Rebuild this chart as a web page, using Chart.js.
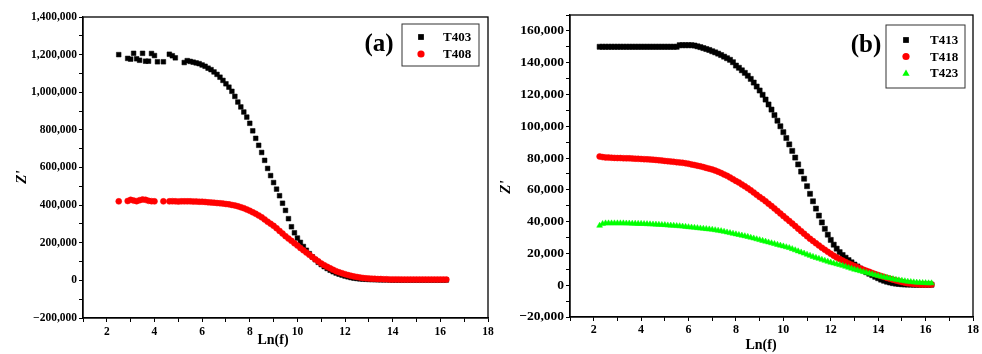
<!DOCTYPE html>
<html>
<head>
<meta charset="utf-8">
<script src="https://cdn.jsdelivr.net/npm/chart.js@4.4.1/dist/chart.umd.min.js"></script>
<style>
  html, body { margin: 0; padding: 0; background: #fff; }
  #wrap { position: relative; width: 982px; height: 354px; overflow: hidden; }
  #chartA { position: absolute; left: 0; top: 0; }
  #chartB { position: absolute; left: 490px; top: 0; }
</style>
</head>
<body>
<div id="wrap">
  <canvas id="chartA" width="500" height="354"></canvas>
  <canvas id="chartB" width="492" height="354"></canvas>
</div>
<script>
// ---- data: Z' in thousands of ohms against ln(f) ----
// null = no measured point at that ln(f)

// panel (a)
const lnfA = [
  2.5, 2.625, 2.75, 2.875, 3, 3.125, 3.25, 3.375,
  3.5, 3.625, 3.75, 3.875, 4, 4.125, 4.25, 4.375,
  4.5, 4.625, 4.75, 4.875, 5, 5.125, 5.25, 5.375,
  5.5, 5.625, 5.75, 5.875, 6, 6.125, 6.25, 6.375,
  6.5, 6.625, 6.75, 6.875, 7, 7.125, 7.25, 7.375,
  7.5, 7.625, 7.75, 7.875, 8, 8.125, 8.25, 8.375,
  8.5, 8.625, 8.75, 8.875, 9, 9.125, 9.25, 9.375,
  9.5, 9.625, 9.75, 9.875, 10, 10.125, 10.25, 10.375,
  10.5, 10.625, 10.75, 10.875, 11, 11.125, 11.25, 11.375,
  11.5, 11.625, 11.75, 11.875, 12, 12.125, 12.25, 12.375,
  12.5, 12.625, 12.75, 12.875, 13, 13.125, 13.25, 13.375,
  13.5, 13.625, 13.75, 13.875, 14, 14.125, 14.25, 14.375,
  14.5, 14.625, 14.75, 14.875, 15, 15.125, 15.25, 15.375,
  15.5, 15.625, 15.75, 15.875, 16, 16.125, 16.25
];
const t403 = [
  1200, null, null, 1180, 1176, 1207, 1178, 1170,
  1207, 1165, 1165, 1206, 1195, 1162, null, 1162,
  null, 1202, 1194, 1183, null, null, 1158, 1168,
  1164, 1160, 1156, 1152, 1145, 1138, 1128, 1120,
  1108, 1095, 1080, 1063, 1045, 1027, 1005, 978,
  948, 922, 895, 868, 835, 795, 755, 718,
  680, 638, 595, 557, 520, 485, 450, 410,
  372, 328, 285, 253, 225, 202, 180, 160,
  142, 125, 110, 96, 84, 73, 63, 54,
  46, 39, 33, 28, 23, 19, 15, 12,
  10, 8, 7, 6, 5, 4.5, 4, 3.5,
  3, 3, 3, 2.5, 2, 2, 2, 2,
  2, 2, 2, 2, 2, 2, 2, 2,
  2, 2, 2, 2, 2, 2, 2
];
const t408 = [
  420, null, null, 422, 428, 424, 421, 426,
  430, 428, 423, 421, 420, null, null, 420,
  null, 420, 421, 420, 419, 420, 420, 420,
  420, 419, 419, 418, 418, 417, 415, 414,
  413, 411, 410, 408, 406, 404, 401, 398,
  394, 389, 384, 377, 370, 362, 354, 345,
  335, 324, 312, 301, 290, 277, 263, 249,
  235, 222, 210, 197, 185, 172, 160, 148,
  136, 124, 112, 101, 90, 81, 72, 64,
  56, 49, 43, 38, 33, 28, 24, 21,
  18, 15, 13, 11, 10, 9, 8, 7,
  7, 6, 6, 5, 5, 5, 5, 4,
  4, 4, 4, 4, 4, 4, 4, 4,
  4, 4, 4, 4, 4, 4, 4
];

// panel (b)
const lnfB = [
  2.25, 2.375, 2.5, 2.625, 2.75, 2.875, 3, 3.125,
  3.25, 3.375, 3.5, 3.625, 3.75, 3.875, 4, 4.125,
  4.25, 4.375, 4.5, 4.625, 4.75, 4.875, 5, 5.125,
  5.25, 5.375, 5.5, 5.625, 5.75, 5.875, 6, 6.125,
  6.25, 6.375, 6.5, 6.625, 6.75, 6.875, 7, 7.125,
  7.25, 7.375, 7.5, 7.625, 7.75, 7.875, 8, 8.125,
  8.25, 8.375, 8.5, 8.625, 8.75, 8.875, 9, 9.125,
  9.25, 9.375, 9.5, 9.625, 9.75, 9.875, 10, 10.125,
  10.25, 10.375, 10.5, 10.625, 10.75, 10.875, 11, 11.125,
  11.25, 11.375, 11.5, 11.625, 11.75, 11.875, 12, 12.125,
  12.25, 12.375, 12.5, 12.625, 12.75, 12.875, 13, 13.125,
  13.25, 13.375, 13.5, 13.625, 13.75, 13.875, 14, 14.125,
  14.25, 14.375, 14.5, 14.625, 14.75, 14.875, 15, 15.125,
  15.25, 15.375, 15.5, 15.625, 15.75, 15.875, 16, 16.125,
  16.25
];
const t413 = [
  150, 150, 150, 150, 150, 150, 150, 150,
  150, 150, 150, 150, 150, 150, 150, 150,
  150, 150, 150, 150, 150, 150, 150, 150,
  150, 150, 150, 151, 151, 151, 151, 151,
  150.8, 150.3, 149.8, 149.2, 148.6, 148, 147.2, 146.5,
  145.7, 144.8, 143.8, 142.8, 141.8, 140.3, 138.2, 136.8,
  135.2, 133.6, 131.8, 129.8, 127.5, 125, 122.5, 119.8,
  116.8, 113.7, 110.5, 107, 103.5, 100, 96.3, 92.6,
  88.6, 84.5, 80.3, 76, 71.5, 67, 62.3, 57.5,
  52.8, 48.2, 43.8, 39.5, 35.5, 31.8, 28.5, 25.5,
  23, 20.8, 19, 17.3, 15.8, 14.4, 13, 11.8,
  10.5, 9.3, 8.2, 7.2, 6.3, 5.3, 4.4, 3.5,
  2.8, 2.2, 1.7, 1.3, 1, 0.8, 0.6, 0.5,
  0.4, 0.4, 0.3, 0.3, 0.3, 0.3, 0.3, 0.3,
  0.3
];
const t418 = [
  81, 80.6, 80.4, 80.3, 80.2, 80.1, 80, 80,
  79.9, 79.8, 79.8, 79.7, 79.6, 79.5, 79.4, 79.3,
  79.2, 79.1, 79, 78.8, 78.6, 78.4, 78.2, 78,
  77.8, 77.6, 77.4, 77.2, 77, 76.7, 76.4, 76,
  75.6, 75.2, 74.8, 74.3, 73.8, 73.3, 72.8, 72.1,
  71.4, 70.6, 69.7, 68.8, 67.8, 66.7, 65.6, 64.6,
  63.4, 62.2, 61, 59.7, 58.3, 56.9, 55.5, 54.2,
  52.8, 51.3, 49.8, 48.3, 46.7, 45.1, 43.5, 41.9,
  40.4, 38.8, 37.2, 35.6, 34, 32.4, 30.8, 29.2,
  27.8, 26.4, 25, 23.6, 22.3, 21, 19.8, 18.6,
  17.5, 16.5, 15.5, 14.6, 13.7, 12.9, 12.1, 11.3,
  10.5, 9.8, 9.1, 8.4, 7.7, 7, 6.4, 5.8,
  5.2, 4.6, 4, 3.5, 3, 2.5, 2, 1.6,
  1.2, 1, 0.8, 0.6, 0.5, 0.5, 0.4, 0.4,
  0.4
];
const t423 = [
  37.5, 38.6, 39, 39, 39, 39, 39, 39,
  39, 38.9, 38.9, 38.8, 38.8, 38.7, 38.7, 38.6,
  38.5, 38.4, 38.3, 38.2, 38.1, 38, 37.9, 37.7,
  37.6, 37.5, 37.3, 37.2, 37, 36.8, 36.6, 36.4,
  36.2, 36, 35.8, 35.6, 35.4, 35.2, 35, 34.7,
  34.4, 34.1, 33.7, 33.3, 32.9, 32.5, 32.1, 31.7,
  31.3, 30.9, 30.5, 30, 29.5, 29, 28.5, 28,
  27.5, 27, 26.5, 26, 25.5, 25, 24.5, 24,
  23.5, 22.8, 22.1, 21.4, 20.7, 20, 19.3, 18.6,
  17.9, 17.3, 16.7, 16.1, 15.5, 14.9, 14.3, 13.8,
  13.3, 12.8, 12.3, 11.7, 11.1, 10.5, 9.9, 9.4,
  8.9, 8.4, 7.9, 7.4, 6.9, 6.4, 5.9, 5.5,
  5.1, 4.7, 4.3, 3.9, 3.5, 3.2, 2.9, 2.6,
  2.3, 2.1, 1.9, 1.7, 1.6, 1.5, 1.4, 1.3,
  1.3
];

const serif = '"Liberation Serif", "Times New Roman", serif';

function pts(xs, ys) {
  return xs.map((x, i) => ({ x: x, y: ys[i] === null ? null : ys[i] * 1000 }));
}

function fmt(v) {
  return v.toLocaleString('en-US').replace('-', '\u2212');
}

function marker(ctx, style, x, y, r) {
  ctx.beginPath();
  if (style === 'rect') {
    ctx.rect(x - r * 0.8, y - r * 0.8, r * 1.6, r * 1.6);
  } else if (style === 'triangle') {
    ctx.moveTo(x, y - r);
    ctx.lineTo(x + r, y + r * 0.75);
    ctx.lineTo(x - r, y + r * 0.75);
    ctx.closePath();
  } else {
    ctx.arc(x, y, r, 0, Math.PI * 2);
  }
  ctx.fill();
}

// frame round the plot, axis titles, panel tag and the boxed key
const frameAndKey = {
  id: 'frameAndKey',
  afterDatasetsDraw(chart, args, o) {
    const { ctx, chartArea: a } = chart;
    ctx.save();
    ctx.strokeStyle = '#000';
    ctx.lineWidth = 1.3;
    ctx.strokeRect(a.left, a.top, a.right - a.left, a.bottom - a.top);

    ctx.fillStyle = '#000';
    ctx.textAlign = 'center';
    ctx.textBaseline = 'middle';
    ctx.font = 'bold 14px ' + serif;
    ctx.fillText('Ln(f)', o.xTitleX, o.xTitleY);
    ctx.save();
    ctx.translate(o.yTitleX, o.yTitleY);
    ctx.rotate(-Math.PI / 2);
    ctx.font = 'italic bold 15px ' + serif;
    ctx.fillText("Z'", 0, 0);
    ctx.restore();

    ctx.font = 'bold 25px ' + serif;
    ctx.fillText(o.tag, o.tagX, o.tagY);

    ctx.lineWidth = 1;
    ctx.strokeStyle = '#333';
    ctx.strokeRect(o.boxX, o.boxY, o.boxW, o.boxH);
    ctx.font = 'bold 13px ' + serif;
    ctx.textAlign = 'left';
    chart.data.datasets.forEach((ds, i) => {
      const y = o.rowY + i * o.rowH;
      ctx.fillStyle = ds.pointBackgroundColor;
      marker(ctx, ds.pointStyle, o.markX, y, 3.6);
      ctx.fillStyle = '#000';
      ctx.fillText(ds.label, o.textX, y + 1);
    });
    ctx.restore();
  }
};

function axes(o) {
  return {
    x: {
      type: 'linear', min: 1, max: 18,
      afterFit: s => { s.height = o.xh; },
      ticks: {
        stepSize: 1, autoSkip: false, maxRotation: 0, padding: o.xpad, color: '#000',
        font: { family: serif, weight: 'bold', size: o.xfs },
        callback: v => (v % 2 === 0 ? String(v) : '')
      },
      grid: { drawOnChartArea: false, drawTicks: true, tickLength: 4, color: '#000' },
      border: { display: true, color: '#000', width: 1.3 }
    },
    y: {
      type: 'linear', min: o.ymin, max: o.ymax,
      afterFit: s => { s.width = o.yw; },
      ticks: {
        stepSize: o.ystep / 2, autoSkip: false, padding: 2, color: '#000',
        font: { family: serif, weight: 'bold', size: o.yfs },
        callback: v => (v % o.ystep === 0 ? fmt(v) : '')
      },
      grid: { drawOnChartArea: false, drawTicks: true, tickLength: 4, color: '#000' },
      border: { display: true, color: '#000', width: 1.3 }
    }
  };
}

function series(label, xs, ys, style, color, r, order) {
  return {
    label: label,
    data: pts(xs, ys),
    pointStyle: style,
    pointRadius: r,
    pointBackgroundColor: color,
    pointBorderColor: color,
    pointBorderWidth: 0.5,
    showLine: false,
    order: order
  };
}

new Chart(document.getElementById('chartA'), {
  type: 'scatter',
  data: {
    datasets: [
      series('T403', lnfA, t403, 'rect', '#000000', 3.3, 1),
      series('T408', lnfA, t408, 'circle', '#ff0000', 3, 0)
    ]
  },
  options: {
    responsive: false, animation: false, devicePixelRatio: 1, events: [],
    layout: { padding: { top: 17, right: 12, left: 0, bottom: 0 } },
    plugins: {
      legend: { display: false },
      tooltip: { enabled: false },
      frameAndKey: {
        xTitleX: 273, xTitleY: 340, yTitleX: 22, yTitleY: 177,
        tag: '(a)', tagX: 379, tagY: 45,
        boxX: 402, boxY: 24, boxW: 77, boxH: 42,
        markX: 421, rowY: 37, rowH: 17, textX: 443
      }
    },
    scales: axes({
      xh: 36, xpad: 3, xfs: 11.5,
      ymin: -200000, ymax: 1400000, ystep: 200000, yw: 83, yfs: 11.5
    })
  },
  plugins: [frameAndKey]
});

new Chart(document.getElementById('chartB'), {
  type: 'scatter',
  data: {
    datasets: [
      series('T413', lnfB, t413, 'rect', '#000000', 3.6, 2),
      series('T418', lnfB, t418, 'circle', '#ff0000', 3, 1),
      series('T423', lnfB, t423, 'triangle', '#00ff00', 3.4, 0)
    ]
  },
  options: {
    responsive: false, animation: false, devicePixelRatio: 1, events: [],
    layout: { padding: { top: 15, right: 9, left: 0, bottom: 0 } },
    plugins: {
      legend: { display: false },
      tooltip: { enabled: false },
      frameAndKey: {
        xTitleX: 271, xTitleY: 345, yTitleX: 16, yTitleY: 187,
        tag: '(b)', tagX: 376, tagY: 46,
        boxX: 396, boxY: 25, boxW: 79, boxH: 63,
        markX: 416, rowY: 40, rowH: 16.5, textX: 440
      }
    },
    scales: axes({
      xh: 37, xpad: 2, xfs: 12,
      ymin: -20000, ymax: 170000, ystep: 20000, yw: 80, yfs: 13.5
    })
  },
  plugins: [frameAndKey]
});
</script>
</body>
</html>
